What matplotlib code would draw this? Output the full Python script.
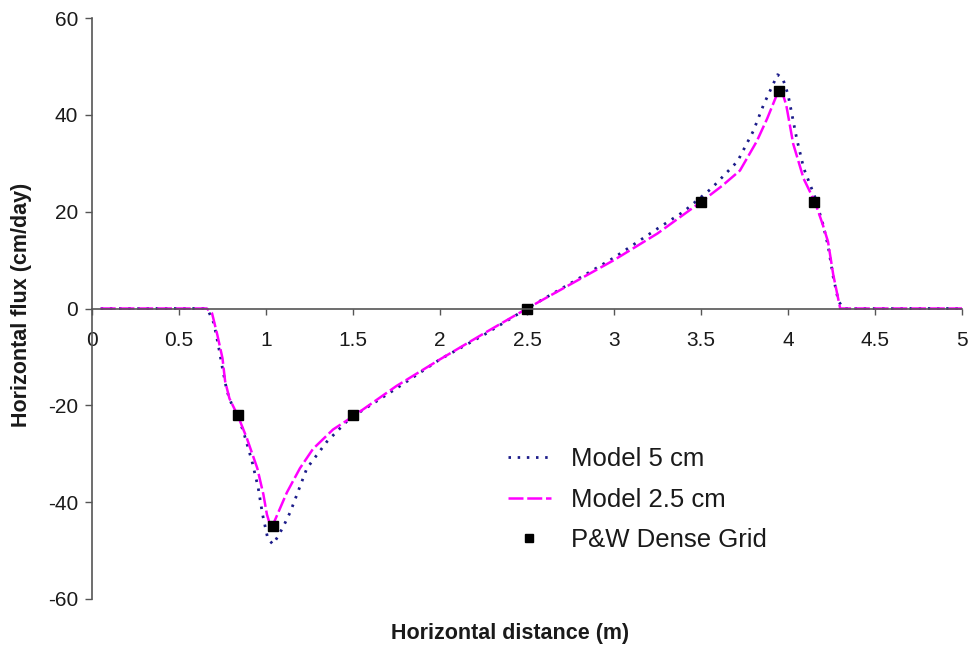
import matplotlib
matplotlib.use("Agg")
import matplotlib.pyplot as plt
from matplotlib.ticker import FormatStrFormatter, MultipleLocator

plt.rcParams['font.family'] = ['Liberation Sans', 'DejaVu Sans']
plt.rcParams['axes.unicode_minus'] = False

# model run on the 5 cm grid
x_5cm = [0.05, 0.3, 0.5, 0.64, 0.67, 0.7, 0.725, 0.75, 0.775, 0.81, 0.84, 0.87,
         0.92, 0.955, 0.98, 1.01, 1.04, 1.07, 1.1, 1.14, 1.235, 1.35, 1.465, 1.5,
         1.75, 2.0, 2.25, 2.5, 2.75, 3.0, 3.25, 3.4, 3.56, 3.71, 3.8, 3.86, 3.94,
         3.97, 4.0, 4.05, 4.09, 4.155, 4.2, 4.23, 4.26, 4.29, 4.32, 4.5, 5.0]
flux_5cm = [0, 0, 0, 0, -0.6, -3, -7.4, -12.4, -17, -20.5, -22.5, -25.4,
            -31.6, -37, -42.5, -47.5, -48.7, -47, -45, -42, -33, -27.5, -23.3, -22.3,
            -16.5, -10.5, -5.5, 0, 5.2, 10.5, 16.5, 20, 24.8, 30.4, 36.6, 42.1, 48.3,
            47.5, 44.2, 35.1, 29, 23, 17.5, 13, 6.5, 1.5, 0, 0, 0]

# model run on the 2.5 cm grid
x_25cm = [0.05, 0.3, 0.5, 0.66, 0.69, 0.72, 0.75, 0.765, 0.79, 0.84, 0.89, 0.95,
          0.985, 1.005, 1.03, 1.06, 1.09, 1.12, 1.195, 1.27, 1.385, 1.5, 1.75, 2.0,
          2.25, 2.5, 2.75, 3.0, 3.25, 3.5, 3.62, 3.724, 3.82, 3.88, 3.94, 3.96,
          3.99, 4.03, 4.09, 4.155, 4.2, 4.23, 4.26, 4.3, 4.5, 5.0]
flux_25cm = [0, 0, 0, 0, -1, -5.4, -10.3, -15, -18.6, -22.3, -26.8, -33,
             -38.4, -42.5, -45.5, -43, -40.5, -38, -33, -29, -25, -22.3, -16, -10.5,
             -5.2, 0, 5, 10, 15.5, 22, 25.3, 28.5, 34.5, 39.2, 44.5, 45.5,
             42, 34, 26.8, 22, 17.3, 13.8, 7, 0, 0, 0]

# P&W dense grid reference points
x_pw = [0.84, 1.04, 1.5, 2.5, 3.5, 3.95, 4.15]
flux_pw = [-22, -45, -22, 0, 22, 45, 22]

fig = plt.figure(figsize=(9.72, 6.51), dpi=100)
ax = fig.add_axes([92 / 972, 1 - 599 / 651, 870 / 972, 581 / 651])

ax.plot(x_5cm, flux_5cm, color='#1c1c8a', lw=2.0, linestyle=(0, (0.9, 2.4)),
        label='Model 5 cm')
ax.plot(x_25cm, flux_25cm, color='#ff00ff', lw=1.8, linestyle=(0, (6, 1.5)),
        label='Model 2.5 cm')
ax.plot(x_pw, flux_pw, linestyle='none', marker='s', ms=7.5, color='black',
        label='P&W Dense Grid')

ax.set_xlim(0, 5)
ax.set_ylim(-60, 60)
ax.xaxis.set_major_locator(MultipleLocator(0.5))
ax.yaxis.set_major_locator(MultipleLocator(20))
ax.xaxis.set_major_formatter(FormatStrFormatter('%g'))

spine_col = '#555555'
ax.spines['top'].set_visible(False)
ax.spines['right'].set_visible(False)
ax.spines['bottom'].set_position(('data', 0))
for s in ('left', 'bottom'):
    ax.spines[s].set_color(spine_col)
    ax.spines[s].set_linewidth(1.2)

ax.tick_params(axis='x', direction='out', length=4, width=1, color=spine_col,
               pad=12, labelsize=15, labelcolor='#1a1a1a')
ax.tick_params(axis='y', direction='out', length=5, width=1, color=spine_col,
               pad=5, labelsize=15, labelcolor='#1a1a1a')

fig.text(510 / 972, 1 - 633 / 651, 'Horizontal distance (m)', ha='center',
         va='center', fontsize=15.5, fontweight='bold', color='#1a1a1a')
fig.text(22 / 972, 1 - 305 / 651, 'Horizontal flux (cm/day)', ha='center',
         va='center', rotation=90, fontsize=15.5, fontweight='bold',
         color='#1a1a1a')

leg = ax.legend(loc='upper left', bbox_to_anchor=(485 / 972, 1 - 424 / 651),
                bbox_transform=fig.transFigure, frameon=False, fontsize=18.5,
                handlelength=1.65, handletextpad=0.8, labelspacing=0.64,
                markerscale=0.8)
for t in leg.get_texts():
    t.set_color('#1a1a1a')

fig.savefig('out.png', dpi=100)
